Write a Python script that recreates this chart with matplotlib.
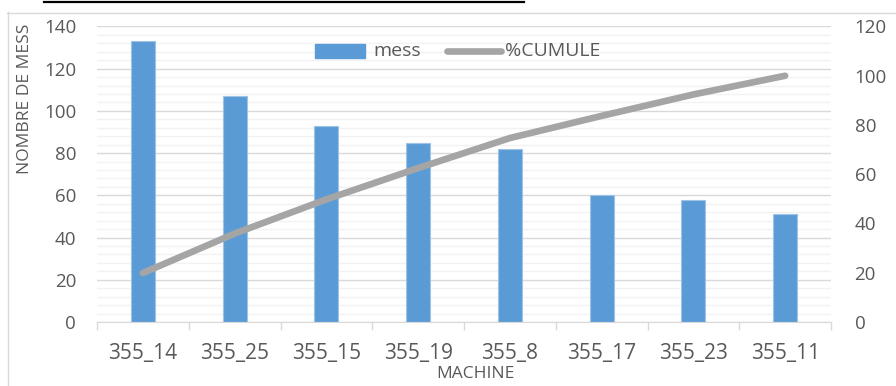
import matplotlib.pyplot as plt
from matplotlib.lines import Line2D
from matplotlib.patches import Rectangle
from matplotlib.ticker import MultipleLocator, FixedLocator

plt.rcParams['font.family'] = ['Open Sans', 'DejaVu Sans']

machines = ['355_14', '355_25', '355_15', '355_19', '355_8', '355_17', '355_23', '355_11']
mess = [133, 107, 93, 85, 82, 60, 58, 51]
cumule = [19.9, 35.9, 49.8, 62.5, 74.7, 83.7, 92.4, 100]
series_names = ['mess', '%CUMULE']

W, H = 896, 386
blue = '#5B9BD5'
grey_line = '#A5A5A5'
txt = '#595959'

fig = plt.figure(figsize=(W / 100, H / 100), dpi=100)

# chart frame and the underline of the text line above it
fig.add_artist(Line2D([7.5 / W, 7.5 / W], [0, 1 - 12 / H], color='#D9D9D9', lw=1))
fig.add_artist(Line2D([7 / W, 1], [1 - 12.5 / H, 1 - 12.5 / H], color='#D9D9D9', lw=1))
fig.add_artist(Line2D([44 / W, 524 / W], [1 - 1.5 / H, 1 - 1.5 / H], color='black', lw=1.6))

ax = fig.add_axes([97 / W, 1 - 322 / H, 734 / W, 295.5 / H])
x = range(len(machines))
ax.bar(x, mess, width=0.26, color=blue, edgecolor='#9DC3E6', linewidth=0.8, zorder=2)
ax.set_xlim(-0.5, len(machines) - 0.5)
ax.set_ylim(0, 140)
ax.yaxis.set_major_locator(MultipleLocator(20))
ax.yaxis.set_minor_locator(MultipleLocator(4))
ax.grid(axis='y', which='major', color='#D9D9D9', lw=1)
ax.grid(axis='y', which='minor', color='#F2F2F2', lw=1)
ax.set_axisbelow(True)
ax.set_xticks(list(x))
ax.set_xticklabels(machines)
ax.xaxis.set_minor_locator(FixedLocator([i - 0.5 for i in range(len(machines) + 1)]))
ax.tick_params(axis='x', which='major', length=0, pad=15, labelsize=15, labelcolor=txt)
ax.tick_params(axis='x', which='minor', length=6, width=1, color='#D9D9D9')
ax.tick_params(axis='y', which='both', length=0, pad=15, labelsize=13.5, labelcolor=txt)
for s in ['top', 'left', 'right']:
    ax.spines[s].set_visible(False)
ax.spines['bottom'].set_color('#D9D9D9')

ax2 = ax.twinx()
ax2.plot(x, cumule, color=grey_line, lw=4.8, solid_capstyle='round', zorder=3)
ax2.set_ylim(0, 120)
ax2.yaxis.set_major_locator(MultipleLocator(20))
ax2.tick_params(axis='y', length=0, pad=17, labelsize=13.5, labelcolor=txt)
for s in ['top', 'left', 'right', 'bottom']:
    ax2.spines[s].set_visible(False)

# axis titles
fig.text(25 / W, 1 - 99 / H, 'NOMBRE DE MESS', rotation=90, ha='center', va='center',
         fontsize=12.5, color=txt)
fig.text(475 / W, 1 - 374 / H, 'MACHINE', ha='center', va='center', fontsize=12.5, color=txt)

# legend
ly = 1 - 51 / H
fig.add_artist(Rectangle((315 / W, 1 - 58 / H), 50 / W, 14 / H, color=blue,
                         transform=fig.transFigure))
fig.text(373 / W, ly, series_names[0], ha='left', va='center', fontsize=14, color=txt)
fig.add_artist(Line2D([447 / W, 501 / W], [ly, ly], color=grey_line, lw=4.8,
                      solid_capstyle='round'))
fig.text(505 / W, ly, series_names[1], ha='left', va='center', fontsize=14, color=txt)

fig.savefig('out.png', dpi=100)
